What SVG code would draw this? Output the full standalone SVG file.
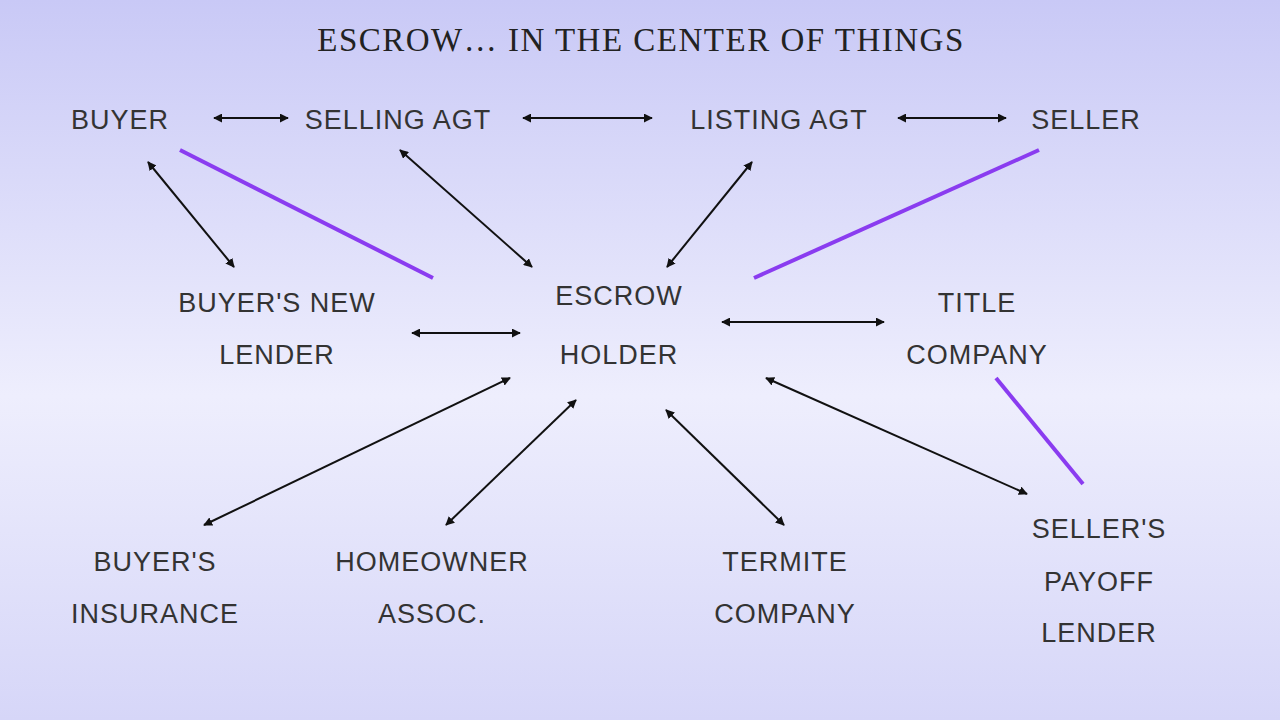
<svg xmlns="http://www.w3.org/2000/svg" width="1280" height="720" viewBox="0 0 1280 720">
<defs>
<linearGradient id="bg" x1="0" y1="0" x2="0" y2="1">
<stop offset="0" stop-color="#c9c9f6"/>
<stop offset="0.55" stop-color="#eeeefd"/>
<stop offset="1" stop-color="#d6d6f8"/>
</linearGradient>
<marker id="ah" viewBox="0 0 10 10" refX="9" refY="5" markerWidth="9" markerHeight="9" markerUnits="userSpaceOnUse" orient="auto-start-reverse">
<path d="M0,0 L10,5 L0,10 z" fill="#111"/>
</marker>
<style>
.t{font-family:"Liberation Sans",Arial,sans-serif;font-size:27px;letter-spacing:1px;fill:#333;text-anchor:middle}
.h{font-family:"Liberation Serif","Times New Roman",serif;font-size:33px;letter-spacing:1.5px;fill:#222;text-anchor:middle}
.a{stroke:#111;stroke-width:2;fill:none;marker-start:url(#ah);marker-end:url(#ah)}
.p{stroke:#8a3cf0;stroke-width:4;fill:none}
</style>
</defs>
<rect width="1280" height="720" fill="url(#bg)"/>
<text class="h" x="641" y="51">ESCROW… IN THE CENTER OF THINGS</text>
<g id="buyer"><text class="t" x="120" y="129">BUYER</text></g>
<g id="selling-agt"><text class="t" x="398" y="129">SELLING AGT</text></g>
<g id="listing-agt"><text class="t" x="779" y="129">LISTING AGT</text></g>
<g id="seller"><text class="t" x="1086" y="129">SELLER</text></g>
<g id="buyers-new-lender"><text class="t" x="277" y="312">BUYER'S NEW</text><text class="t" x="277" y="364">LENDER</text></g>
<g id="escrow-holder"><text class="t" x="619" y="305">ESCROW</text><text class="t" x="619" y="364">HOLDER</text></g>
<g id="title-company"><text class="t" x="977" y="312">TITLE</text><text class="t" x="977" y="364">COMPANY</text></g>
<g id="buyers-insurance"><text class="t" x="155" y="571">BUYER'S</text><text class="t" x="155" y="623">INSURANCE</text></g>
<g id="homeowner-assoc"><text class="t" x="432" y="571">HOMEOWNER</text><text class="t" x="432" y="623">ASSOC.</text></g>
<g id="termite-company"><text class="t" x="785" y="571">TERMITE</text><text class="t" x="785" y="623">COMPANY</text></g>
<g id="sellers-payoff-lender"><text class="t" x="1099" y="538">SELLER'S</text><text class="t" x="1099" y="591">PAYOFF</text><text class="t" x="1099" y="642">LENDER</text></g>
<g id="connectors">
<line class="a" x1="214" y1="118" x2="288" y2="118"/>
<line class="a" x1="523" y1="118" x2="652" y2="118"/>
<line class="a" x1="898" y1="118" x2="1006" y2="118"/>
<line class="a" x1="148" y1="162" x2="234" y2="267"/>
<line class="a" x1="400" y1="150" x2="532" y2="267"/>
<line class="a" x1="752" y1="162" x2="667" y2="267"/>
<line class="a" x1="412" y1="333" x2="520" y2="333"/>
<line class="a" x1="722" y1="322" x2="884" y2="322"/>
<line class="a" x1="510" y1="378" x2="204" y2="525"/>
<line class="a" x1="576" y1="400" x2="446" y2="525"/>
<line class="a" x1="666" y1="410" x2="784" y2="525"/>
<line class="a" x1="766" y1="378" x2="1027" y2="494"/>
<line class="p" x1="180" y1="150" x2="433" y2="278"/>
<line class="p" x1="1039" y1="150" x2="754" y2="278"/>
<line class="p" x1="996" y1="378" x2="1083" y2="484"/>
</g>
</svg>
